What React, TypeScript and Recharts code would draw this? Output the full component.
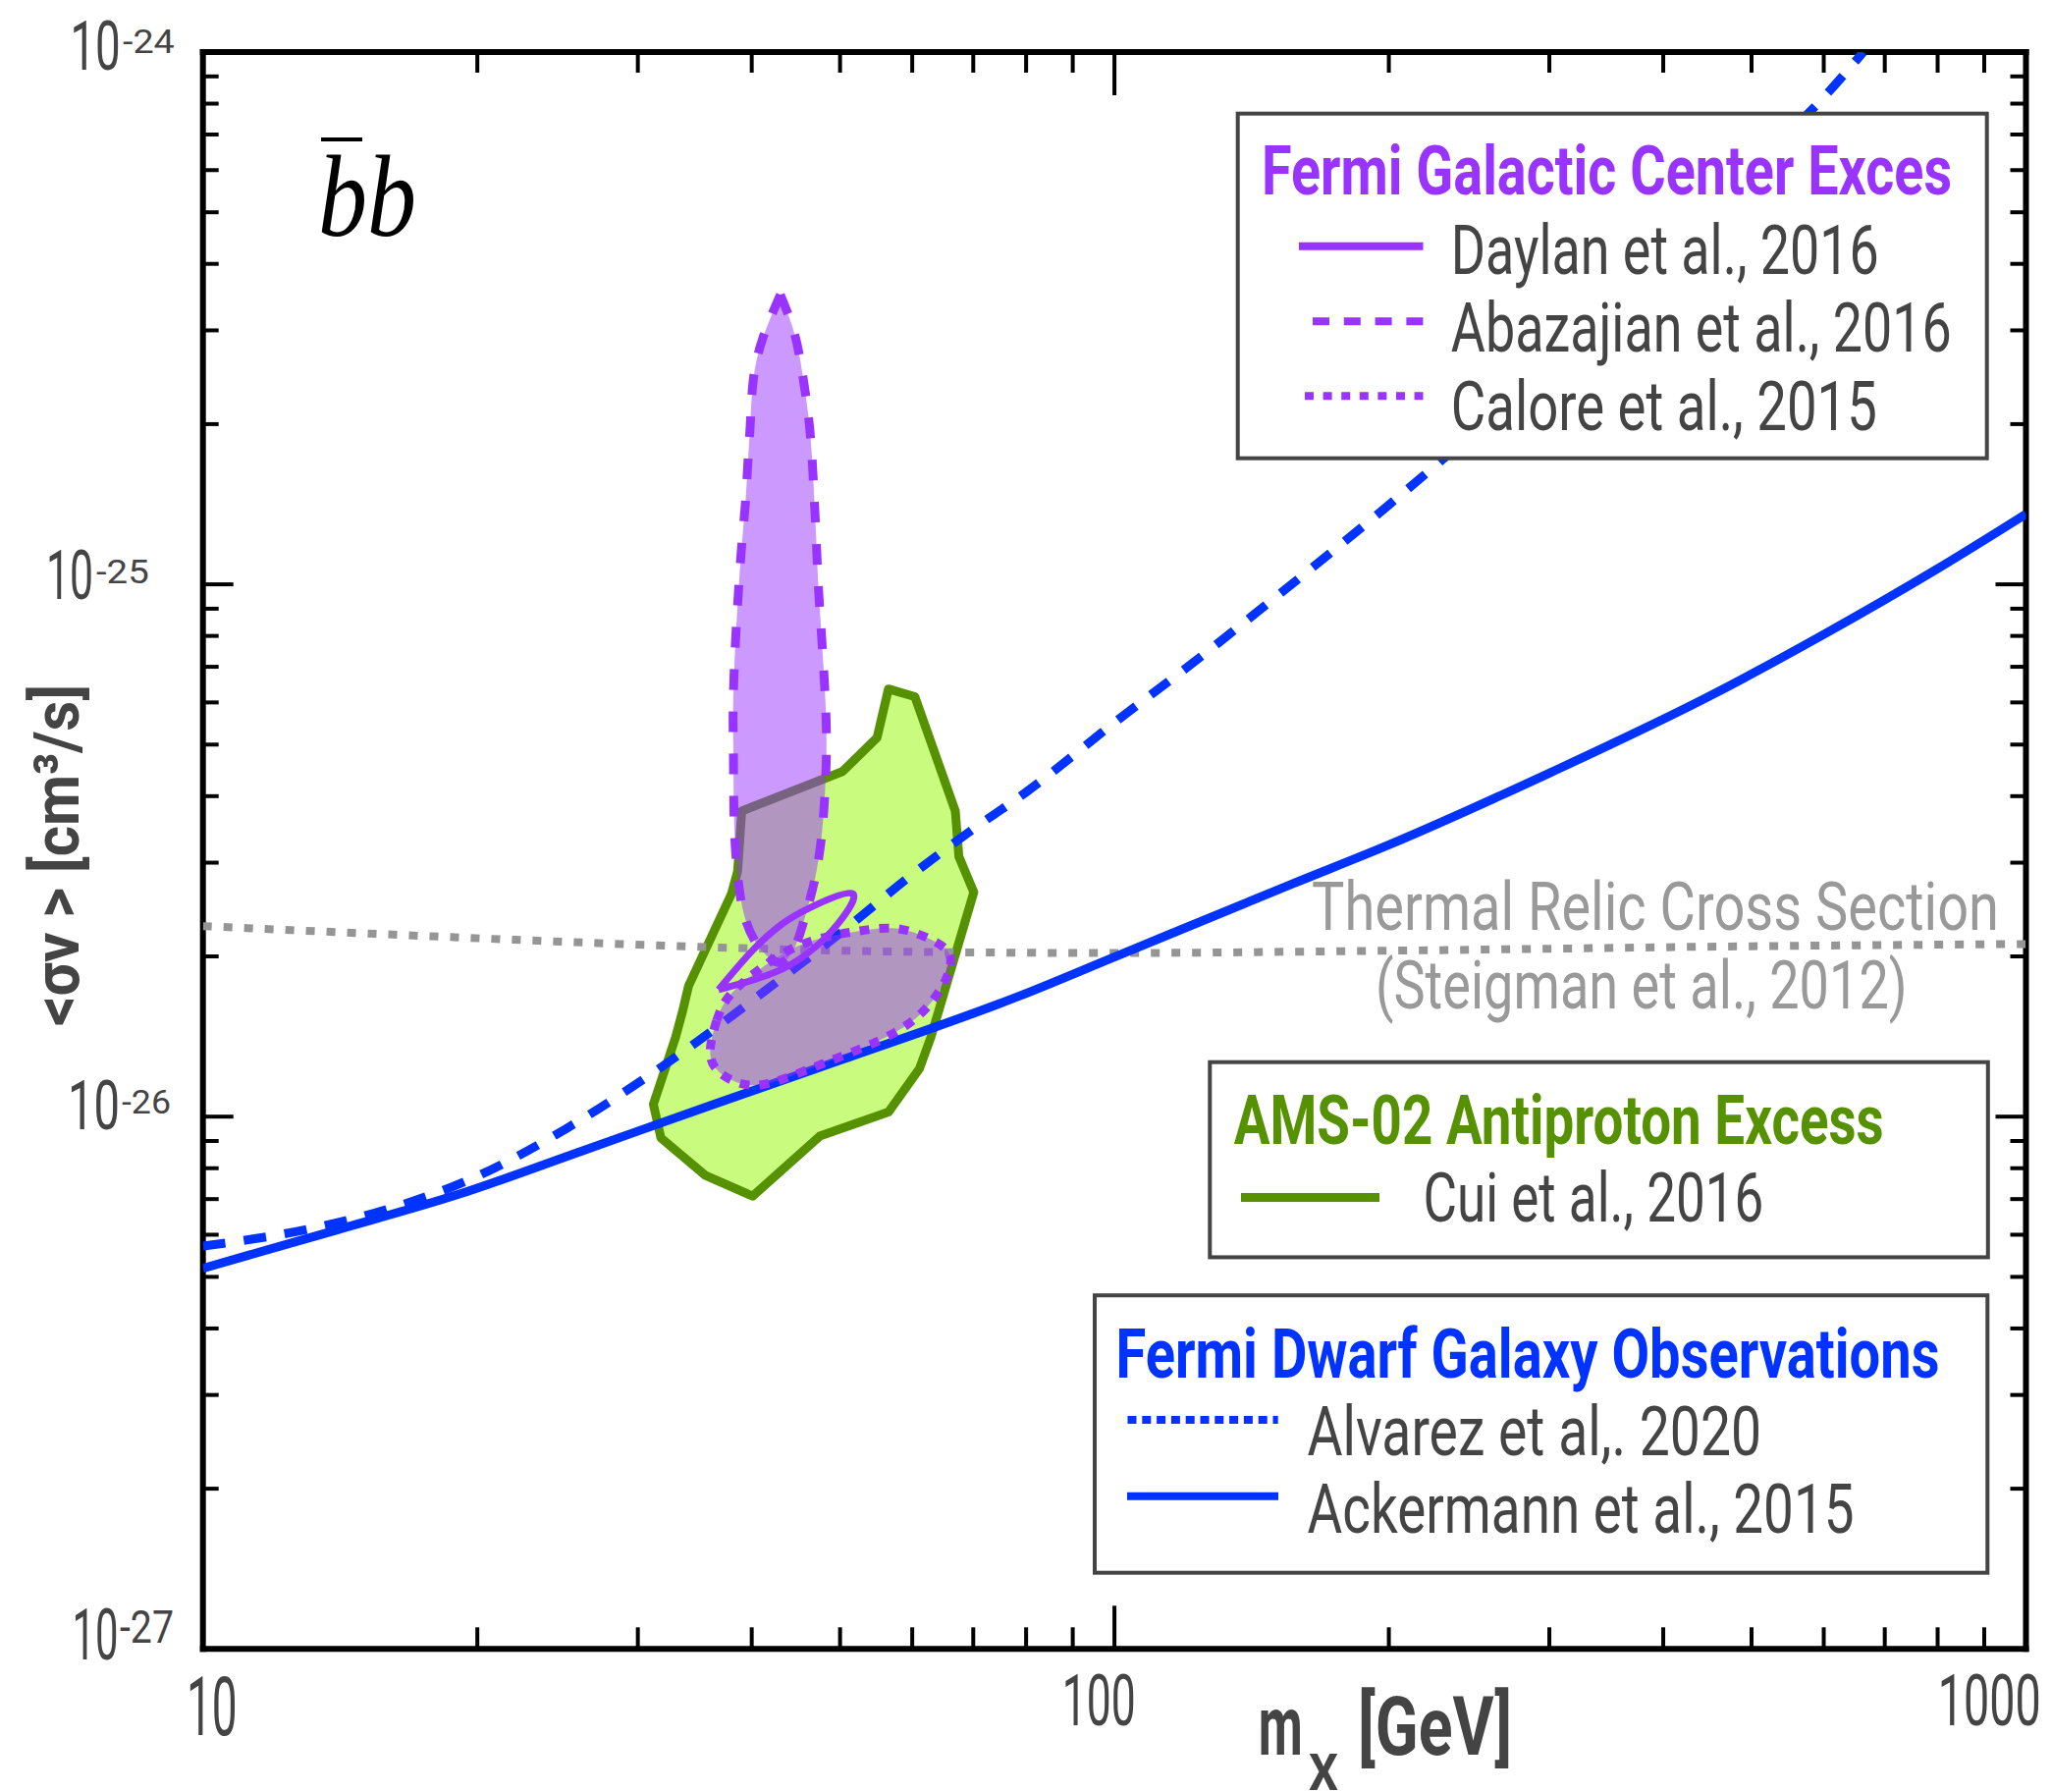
import React from 'react';
import { ComposedChart, Line, XAxis, YAxis, Curve } from 'recharts';

type Pt = { m: number; sv: number };

// ---------------- data (m in GeV, <sigma v> in cm^3/s) ----------------
const THERMAL_RELIC: Pt[] = [
  { m: 10, sv: 2.28e-26 }, { m: 15, sv: 2.21e-26 }, { m: 25, sv: 2.13e-26 },
  { m: 40, sv: 2.07e-26 }, { m: 60, sv: 2.04e-26 }, { m: 100, sv: 2.03e-26 },
  { m: 200, sv: 2.05e-26 }, { m: 500, sv: 2.09e-26 }, { m: 1000, sv: 2.11e-26 },
];

const ACKERMANN_2015: Pt[] = [
  { m: 10, sv: 5.19e-27 }, { m: 14, sv: 6.12e-27 }, { m: 19, sv: 7.13e-27 },
  { m: 26, sv: 8.61e-27 }, { m: 36, sv: 1.049e-26 }, { m: 50, sv: 1.276e-26 },
  { m: 79, sv: 1.69e-26 }, { m: 100, sv: 1.995e-26 }, { m: 157, sv: 2.74e-26 },
  { m: 200, sv: 3.24e-26 }, { m: 300, sv: 4.42e-26 }, { m: 450, sv: 6.17e-26 },
  { m: 600, sv: 8.05e-26 }, { m: 800, sv: 1.07e-25 }, { m: 1000, sv: 1.355e-25 },
];

const ALVAREZ_2020: Pt[] = [
  { m: 10, sv: 5.71e-27 }, { m: 13, sv: 6.14e-27 }, { m: 16, sv: 6.71e-27 },
  { m: 20, sv: 7.73e-27 }, { m: 25, sv: 9.48e-27 }, { m: 30, sv: 1.156e-26 },
  { m: 35, sv: 1.39e-26 }, { m: 40, sv: 1.65e-26 }, { m: 50, sv: 2.21e-26 },
  { m: 60, sv: 2.85e-26 }, { m: 70, sv: 3.47e-26 }, { m: 80, sv: 4.07e-26 },
  { m: 100, sv: 5.5e-26 }, { m: 125, sv: 7.36e-26 }, { m: 150, sv: 9.44e-26 },
  { m: 200, sv: 1.41e-25 }, { m: 300, sv: 2.58e-25 }, { m: 400, sv: 4.11e-25 },
  { m: 500, sv: 6.04e-25 }, { m: 608, sv: 8.43e-25 }, { m: 663, sv: 1.0e-24 },
];

const CUI_2016: Pt[] = [
  { m: 56.5, sv: 6.36e-26 }, { m: 60.4, sv: 6.15e-26 }, { m: 66.9, sv: 3.75e-26 },
  { m: 67.5, sv: 3.08e-26 }, { m: 70.1, sv: 2.64e-26 }, { m: 62.9, sv: 1.41e-26 },
  { m: 61.1, sv: 1.23e-26 }, { m: 56.5, sv: 1.02e-26 }, { m: 47.5, sv: 9.19e-27 },
  { m: 40.1, sv: 7.09e-27 }, { m: 35.6, sv: 7.75e-27 }, { m: 31.8, sv: 9.12e-27 },
  { m: 31.2, sv: 1.055e-26 }, { m: 33.0, sv: 1.41e-26 }, { m: 33.6, sv: 1.58e-26 },
  { m: 34.1, sv: 1.76e-26 }, { m: 38.0, sv: 2.62e-26 }, { m: 38.6, sv: 2.89e-26 },
  { m: 39.0, sv: 3.75e-26 }, { m: 50.3, sv: 4.45e-26 }, { m: 54.9, sv: 5.15e-26 },
];

const ABAZAJIAN_2016: Pt[] = [
  { m: 43.0, sv: 3.5e-25 }, { m: 44.56, sv: 2.96e-25 }, { m: 45.48, sv: 2.48e-25 },
  { m: 46.16, sv: 2.07e-25 }, { m: 46.58, sv: 1.73e-25 }, { m: 46.85, sv: 1.445e-25 },
  { m: 47.09, sv: 1.206e-25 }, { m: 47.31, sv: 1.006e-25 }, { m: 47.63, sv: 8.4e-26 },
  { m: 47.95, sv: 7.01e-26 }, { m: 48.22, sv: 5.86e-26 }, { m: 48.31, sv: 4.86e-26 },
  { m: 48.1, sv: 4.0e-26 }, { m: 47.71, sv: 3.35e-26 }, { m: 46.93, sv: 2.8e-26 },
  { m: 45.78, sv: 2.378e-26 }, { m: 44.65, sv: 2.088e-26 }, { m: 43.23, sv: 1.95e-26 },
  { m: 41.79, sv: 1.989e-26 }, { m: 40.44, sv: 2.122e-26 }, { m: 39.28, sv: 2.378e-26 },
  { m: 38.64, sv: 2.8e-26 }, { m: 38.32, sv: 3.35e-26 }, { m: 38.22, sv: 4.0e-26 },
  { m: 38.19, sv: 4.86e-26 }, { m: 38.16, sv: 5.72e-26 }, { m: 38.26, sv: 6.83e-26 },
  { m: 38.45, sv: 8.19e-26 }, { m: 38.7, sv: 9.82e-26 }, { m: 38.99, sv: 1.177e-25 },
  { m: 39.35, sv: 1.409e-25 }, { m: 39.61, sv: 1.689e-25 }, { m: 39.87, sv: 2.024e-25 },
  { m: 40.16, sv: 2.423e-25 }, { m: 41.11, sv: 2.892e-25 }, { m: 43.0, sv: 3.5e-25 },
];

const CALORE_2015: Pt[] = [
  { m: 35.72, sv: 1.303e-26 }, { m: 36.62, sv: 1.533e-26 }, { m: 37.54, sv: 1.69e-26 },
  { m: 40.77, sv: 1.894e-26 }, { m: 44.29, sv: 2.089e-26 }, { m: 48.92, sv: 2.194e-26 },
  { m: 52.24, sv: 2.229e-26 }, { m: 57.21, sv: 2.284e-26 }, { m: 61.64, sv: 2.194e-26 },
  { m: 66.4, sv: 2.055e-26 }, { m: 66.12, sv: 1.894e-26 }, { m: 64.78, sv: 1.746e-26 },
  { m: 61.64, sv: 1.559e-26 }, { m: 57.68, sv: 1.438e-26 }, { m: 53.12, sv: 1.347e-26 },
  { m: 48.1, sv: 1.262e-26 }, { m: 44.29, sv: 1.192e-26 }, { m: 40.77, sv: 1.135e-26 },
  { m: 38.47, sv: 1.154e-26 }, { m: 36.62, sv: 1.212e-26 },
];

const DAYLAN_2016: Pt[] = [
  { m: 36.78, sv: 1.732e-26 }, { m: 40.11, sv: 2.055e-26 }, { m: 43.21, sv: 2.302e-26 },
  { m: 46.54, sv: 2.477e-26 }, { m: 51.6, sv: 2.623e-26 }, { m: 49.72, sv: 2.302e-26 },
  { m: 46.54, sv: 2.055e-26 }, { m: 43.21, sv: 1.894e-26 }, { m: 39.45, sv: 1.79e-26 },
  { m: 36.78, sv: 1.732e-26 },
];

// ---------------- ticks ----------------
const X_TICKS = [10, 20, 30, 40, 50, 60, 70, 80, 90, 100, 200, 300, 400, 500, 600, 700, 800, 900, 1000];
const X_MAJOR = [10, 100, 1000];
const X_TICK_LABELS: Record<number, string> = { 10: '10', 100: '100', 1000: '1000' };
const Y_TICKS = [
  1e-27, 2e-27, 3e-27, 4e-27, 5e-27, 6e-27, 7e-27, 8e-27, 9e-27,
  1e-26, 2e-26, 3e-26, 4e-26, 5e-26, 6e-26, 7e-26, 8e-26, 9e-26,
  1e-25, 2e-25, 3e-25, 4e-25, 5e-25, 6e-25, 7e-25, 8e-25, 9e-25,
  1e-24,
];
const Y_EXPONENT_LABELS: Record<number, string> = { [-27]: '-27', [-26]: '-26', [-25]: '-25', [-24]: '-24' };

// ---------------- styles ----------------
const FONT = "Roboto, 'DejaVu Sans', Arial, sans-serif";
const TXT = '#444444';
const PURPLE = '#9933ff';
const BLUE = '#0033ff';
const GREEN = '#559100';
const GREEN_FILL = '#c8fb7e';
const GRAY = '#959595';

const X_LABEL_STYLE: Record<number, { dx: number; dy: number; fs: number; w: number }> = {
  10: { dx: -16.7, dy: 88, fs: 84, w: 51.7 },
  100: { dx: -53.3, dy: 77.4, fs: 73, w: 75 },
  1000: { dx: -89.8, dy: 77.4, fs: 73, w: 105 },
};
const Y_LABEL_STYLE: Record<number, { bdx: number; bdy: number; bw: number; bfs: number; sdx: number; sdy: number; sw: number; sfs: number }> = {
  [-24]: { bdx: -135.3, bdy: 17.5, bw: 51.4, bfs: 70, sdx: -81.7, sdy: 1, sw: 52.7, sfs: 33 },
  [-25]: { bdx: -159.8, bdy: 14.4, bw: 48, bfs: 70, sdx: -108.7, sdy: -1, sw: 53.8, sfs: 33 },
  [-26]: { bdx: -137.7, bdy: 13, bw: 53, bfs: 70, sdx: -82.7, sdy: -3, sw: 50, sfs: 33 },
  [-27]: { bdx: -133.1, bdy: 11, bw: 47, bfs: 72, sdx: -84.7, sdy: -6.6, sw: 55, sfs: 46 },
};

const isDecade = (v: number) => {
  const e = Math.log10(v);
  return Math.abs(e - Math.round(e)) < 1e-6;
};

const BottomTick = (p: any) => {
  const v = p.payload.value;
  const major = X_MAJOR.includes(v);
  const lab = X_TICK_LABELS[v];
  const st = X_LABEL_STYLE[v];
  return (
    <g>
      <line x1={p.x} x2={p.x} y1={p.y} y2={p.y - (major ? 44 : 22)} stroke="#000" strokeWidth={4} />
      {lab && st && (
        <text x={p.x + st.dx} y={p.y + st.dy} fontSize={st.fs} fontFamily={FONT} fill={TXT}
          textLength={st.w} lengthAdjust="spacingAndGlyphs">{lab}</text>
      )}
    </g>
  );
};

const TopTick = (p: any) => {
  const major = X_MAJOR.includes(p.payload.value);
  return <line x1={p.x} x2={p.x} y1={p.y} y2={p.y + (major ? 44 : 21)} stroke="#000" strokeWidth={4} />;
};

const LeftTick = (p: any) => {
  const v = p.payload.value;
  const major = isDecade(v);
  const e = Math.round(Math.log10(v));
  const st = major ? Y_LABEL_STYLE[e] : undefined;
  return (
    <g>
      <line x1={p.x} x2={p.x + (major ? 31 : 16)} y1={p.y} y2={p.y} stroke="#000" strokeWidth={4} />
      {st && (
        <g fontFamily={FONT} fill={TXT}>
          <text x={p.x + st.bdx} y={p.y + st.bdy} fontSize={st.bfs} textLength={st.bw} lengthAdjust="spacingAndGlyphs">10</text>
          <text x={p.x + st.sdx} y={p.y + st.sdy} fontSize={st.sfs} textLength={st.sw} lengthAdjust="spacingAndGlyphs">{Y_EXPONENT_LABELS[e]}</text>
        </g>
      )}
    </g>
  );
};

const RightTick = (p: any) => {
  const major = isDecade(p.payload.value);
  return <line x1={p.x} x2={p.x - (major ? 31 : 16)} y1={p.y} y2={p.y} stroke="#000" strokeWidth={4} />;
};

// Draws the whole series shape (curve or filled region) from the points placed by the chart's scales.
type ShapeSpec = { curve: any; fill?: string; fillOpacity?: number; stroke?: string; strokeWidth?: number; dash?: string };
function shapeDot(n: number, spec: ShapeSpec) {
  let acc: { x: number; y: number }[] = [];
  return (p: any) => {
    if (p.index === 0) acc = [];
    acc.push({ x: p.cx, y: p.cy });
    if (p.index !== n - 1) return <g key={`d${p.index}`} />;
    const pts = p.points && p.points.length === n ? p.points.map((q: any) => ({ x: q.x, y: q.y })) : acc;
    return (
      <Curve
        key="shape"
        points={pts}
        type={spec.curve}
        fill={spec.fill ?? 'none'}
        fillOpacity={spec.fillOpacity ?? 1}
        stroke={spec.stroke ?? 'none'}
        strokeWidth={spec.strokeWidth ?? 0}
        strokeDasharray={spec.dash}
        strokeLinejoin="round"
      />
    );
  };
}

const axisLineStyle = { stroke: '#000', strokeWidth: 6, strokeLinecap: 'square' as const };

const series: { key: string; data: Pt[]; spec: ShapeSpec }[] = [
  { key: 'cui-fill', data: CUI_2016, spec: { curve: 'linearClosed', fill: GREEN_FILL } },
  { key: 'cui-line', data: CUI_2016, spec: { curve: 'linearClosed', stroke: GREEN, strokeWidth: 9 } },
  { key: 'thermal', data: THERMAL_RELIC, spec: { curve: 'monotone', stroke: GRAY, strokeWidth: 8, dash: '9 12' } },
  { key: 'ackermann', data: ACKERMANN_2015, spec: { curve: 'monotone', stroke: BLUE, strokeWidth: 9 } },
  { key: 'alvarez', data: ALVAREZ_2020, spec: { curve: 'monotone', stroke: BLUE, strokeWidth: 9, dash: '23 19' } },
  { key: 'abaz-fill', data: ABAZAJIAN_2016, spec: { curve: 'natural', fill: PURPLE, fillOpacity: 0.5 } },
  { key: 'calore-fill', data: CALORE_2015, spec: { curve: 'basisClosed', fill: PURPLE, fillOpacity: 0.5 } },
  { key: 'abaz-line', data: ABAZAJIAN_2016, spec: { curve: 'natural', stroke: PURPLE, strokeWidth: 9, dash: '21 22' } },
  { key: 'calore-line', data: CALORE_2015, spec: { curve: 'basisClosed', stroke: PURPLE, strokeWidth: 9, dash: '10 10' } },
  { key: 'daylan-line', data: DAYLAN_2016, spec: { curve: 'natural', stroke: PURPLE, strokeWidth: 7 } },
];

const T = (props: { x: number; y: number; w: number; fs: number; fill?: string; bold?: boolean; children: React.ReactNode }) => (
  <text x={props.x} y={props.y} fontSize={props.fs} fontFamily={FONT} fontWeight={props.bold ? 700 : 400}
    fill={props.fill ?? TXT} textLength={props.w} lengthAdjust="spacingAndGlyphs">{props.children}</text>
);

export default function App() {
  return (
    <div style={{ position: 'absolute', left: 0, top: 0, width: 2089, height: 1825, background: '#fff' }}>
      <div style={{ position: 'absolute', left: 0, top: 0 }}>
        <ComposedChart width={2089} height={1825} margin={{ top: 52, right: 24.5, bottom: 5.7, left: 56.7 }}>
          <XAxis xAxisId="b" type="number" dataKey="m" scale="log" domain={[10, 1000]} allowDataOverflow
            ticks={X_TICKS} interval={0} orientation="bottom" height={140} tickLine={false} tickSize={0} tickMargin={0}
            axisLine={axisLineStyle} tick={BottomTick} />
          <XAxis xAxisId="t" type="number" dataKey="m" scale="log" domain={[10, 1000]} allowDataOverflow
            ticks={X_TICKS} interval={0} orientation="top" height={1} tickLine={false} tickSize={0} tickMargin={0}
            axisLine={axisLineStyle} tick={TopTick} />
          <YAxis yAxisId="l" type="number" scale="log" domain={[1e-27, 1e-24]} allowDataOverflow
            ticks={Y_TICKS} interval={0} orientation="left" width={150} tickLine={false} tickSize={0} tickMargin={0}
            axisLine={axisLineStyle} tick={LeftTick} />
          <YAxis yAxisId="r" type="number" scale="log" domain={[1e-27, 1e-24]} allowDataOverflow
            ticks={Y_TICKS} interval={0} orientation="right" width={1} tickLine={false} tickSize={0} tickMargin={0}
            axisLine={axisLineStyle} tick={RightTick} />
          {series.map((s) => (
            <Line key={s.key} xAxisId="b" yAxisId="l" data={s.data} dataKey="sv" type="linear"
              stroke="none" fill="none" dot={shapeDot(s.data.length, s.spec)} activeDot={false}
              isAnimationActive={false} legendType="none" />
          ))}
        </ComposedChart>
      </div>
      <svg width={2089} height={1825} style={{ position: 'absolute', left: 0, top: 0, pointerEvents: 'none' }}>
        {/* b-bar b */}
        <line x1={327} x2={369} y1={142} y2={142} stroke="#000" strokeWidth={4} />
        <text x={324} y={240} fontSize={118} fontFamily="'Liberation Serif', 'DejaVu Serif', serif" fontStyle="italic"
          fill="#000" textLength={100} lengthAdjust="spacingAndGlyphs">bb</text>

        {/* thermal relic label */}
        <T x={1336} y={947} w={700} fs={68} fill="#999999">Thermal Relic Cross Section</T>
        <T x={1401} y={1027} w={541.6} fs={68} fill="#999999">(Steigman et al., 2012)</T>

        {/* legend 1 */}
        <rect x={1260.7} y={115.7} width={763} height={351} fill="#fff" stroke={TXT} strokeWidth={4} />
        <T x={1285} y={198.3} w={703} fs={70} bold fill={PURPLE}>Fermi Galactic Center Exces</T>
        <line x1={1323} x2={1449.5} y1={250.7} y2={250.7} stroke={PURPLE} strokeWidth={8} />
        <T x={1477.8} y={279} w={436} fs={71}>Daylan et al., 2016</T>
        <line x1={1337} x2={1449.5} y1={327.3} y2={327.3} stroke={PURPLE} strokeWidth={8} strokeDasharray="17 14.8" />
        <T x={1477.8} y={358.3} w={510} fs={71}>Abazajian et al., 2016</T>
        <line x1={1329} x2={1449.5} y1={403.3} y2={403.3} stroke={PURPLE} strokeWidth={8} strokeDasharray="9 9.6" />
        <T x={1477.8} y={438.3} w={434} fs={71}>Calore et al., 2015</T>

        {/* legend 2 */}
        <rect x={1232.3} y={1081.7} width={792.5} height={198.7} fill="#fff" stroke={TXT} strokeWidth={4} />
        <T x={1256.7} y={1165} w={662} fs={70} bold fill={GREEN}>AMS-02 Antiproton Excess</T>
        <line x1={1264} x2={1405} y1={1219.4} y2={1219.4} stroke={GREEN} strokeWidth={9} />
        <T x={1449.4} y={1243.6} w={347} fs={71}>Cui et al., 2016</T>

        {/* legend 3 */}
        <rect x={1115} y={1319.2} width={909.3} height={282.5} fill="#fff" stroke={TXT} strokeWidth={4} />
        <T x={1136.5} y={1402.6} w={839} fs={70} bold fill={BLUE}>Fermi Dwarf Galaxy Observations</T>
        <line x1={1148.5} x2={1301.7} y1={1446} y2={1446} stroke={BLUE} strokeWidth={8} strokeDasharray="9 5.8" />
        <T x={1331.5} y={1481.6} w={462.5} fs={71}>Alvarez et al,. 2020</T>
        <line x1={1148} x2={1302} y1={1523.8} y2={1523.8} stroke={BLUE} strokeWidth={8} />
        <T x={1331.5} y={1561} w={557} fs={71}>Ackermann et al., 2015</T>

        {/* axis titles */}
        <text x={80} y={871} transform="rotate(-90 80 871)" textAnchor="middle" fontSize={64} fontFamily={FONT}
          fontWeight={700} fill={TXT} textLength={348} lengthAdjust="spacingAndGlyphs">{'<σv > [cm³/s]'}</text>
        <T x={1281.7} y={1786.7} w={45} fs={85} bold>m</T>
        <T x={1333} y={1823} w={30} fs={52} bold>X</T>
        <T x={1383} y={1786.7} w={157} fs={84} bold>[GeV]</T>
      </svg>
    </div>
  );
}
